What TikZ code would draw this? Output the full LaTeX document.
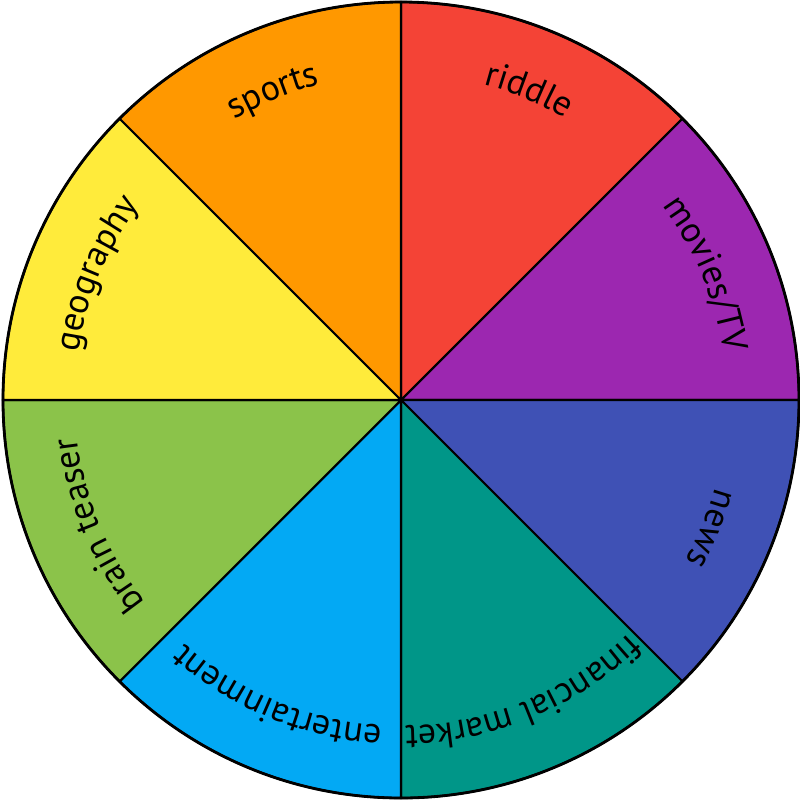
\documentclass[tikz,border=0pt]{standalone}
\usepackage{fontspec}
\setmainfont{PT Sans}
\usepackage{xcolor}
\usetikzlibrary{decorations.text}
\definecolor{riddlered}{HTML}{F44336}
\definecolor{moviepurple}{HTML}{9C27B0}
\definecolor{newsblue}{HTML}{3F51B5}
\definecolor{marketteal}{HTML}{009688}
\definecolor{funblue}{HTML}{03A9F4}
\definecolor{brainlime}{HTML}{8BC34A}
\definecolor{geoyellow}{HTML}{FFEB3B}
\definecolor{sportorange}{HTML}{FF9800}
\newcommand\topicfont{\fontsize{10.2}{12}\selectfont}

\begin{document}
\begin{tikzpicture}[line cap=round,
  wedge/.style={draw=black,line width=0.6pt}]
\useasboundingbox (-4.01,-3.99) rectangle (3.99,4.00);
\coordinate (O) at (0,0);
% eight wedges, clockwise from the top, names bent along the rim
\foreach \a/\col/\txt in {90/riddlered/riddle,45/moviepurple/{movies/TV},0/newsblue/news,-45/marketteal/financial market,-90/funblue/entertainment,-135/brainlime/brain teaser,-180/geoyellow/geography,-225/sportorange/sports}{
  \filldraw[wedge,fill=\col] (O) -- (\a:3.98) arc[start angle=\a,end angle=\a-45,radius=3.98] -- cycle;
  \path[decorate,decoration={text along path,text align=center,
      text/.expanded={|\noexpand\topicfont|\txt}}]
    (\a:3.26) arc[start angle=\a,end angle=\a-45,radius=3.26];
}
\draw[line width=0.8pt] (O) circle (3.98);
\end{tikzpicture}
\end{document}
